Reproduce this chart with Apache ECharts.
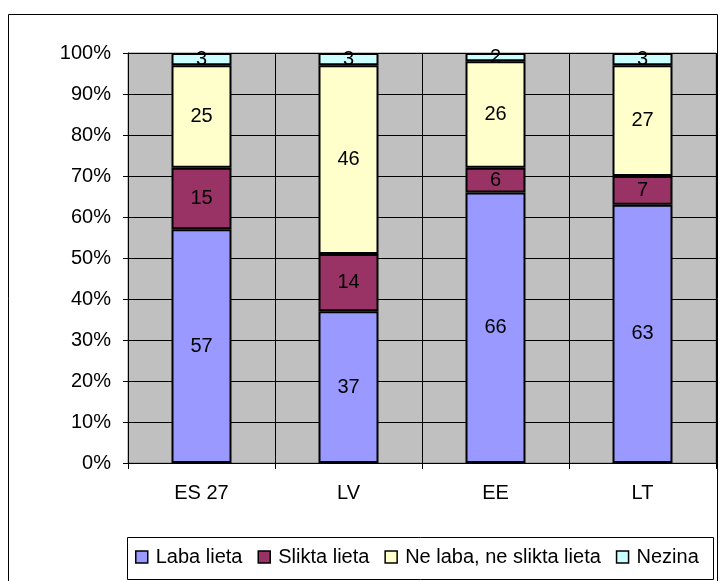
<!DOCTYPE html>
<html>
<head>
<meta charset="utf-8">
<script src="https://cdn.jsdelivr.net/npm/echarts@6/dist/echarts.min.js"></script>
<style>
html, body { margin: 0; padding: 0; background: #fff; }
#main { width: 725px; height: 581px; }
</style>
</head>
<body>
<div id="main"></div>
<script>
var countries = ['ES 27', 'LV', 'EE', 'LT'];
var names = ['Laba lieta', 'Slikta lieta', 'Ne laba, ne slikta lieta', 'Nezina'];
var laba = [57, 37, 66, 63];
var slikta = [15, 14, 6, 7];
var nelaba = [25, 46, 26, 27];
var nezina = [3, 3, 2, 3];
var colors = ['#9999FF', '#993366', '#FFFFCC', '#CCFFFF'];

var myChart = echarts.init(document.getElementById('main'));

var makeSeries = function(name, data, color){
	return {
		name: name,
		type: 'bar',
		stack: 'all',
		data: data,
		barWidth: 60,
		itemStyle: {color: color, borderColor: '#000', borderWidth: 2},
		label: {
			show: true,
			position: 'inside',
			color: '#000',
			fontSize: 20,
			fontFamily: 'Liberation Sans, Arial'
		}
	};
}

var option = {
	animation: false,
	textStyle: {fontFamily: 'Liberation Sans, Arial'},
	graphic: [
		{type: 'rect', shape: {x: 8.5, y: 14.5, width: 709, height: 580}, style: {fill: 'none', stroke: '#000', lineWidth: 1}},
		{type: 'rect', shape: {x: 127.5, y: 537.5, width: 586, height: 42}, style: {fill: '#fff', stroke: '#000', lineWidth: 1}}
	],
	grid: {
		left: 128, right: 9, top: 53, bottom: 118,
		show: true,
		backgroundColor: '#C0C0C0',
		borderColor: '#808080',
		borderWidth: 1
	},
	legend: {
		data: names,
		left: 135,
		top: 547,
		itemWidth: 12,
		itemHeight: 12,
		itemGap: 15,
		padding: 0,
		icon: 'rect',
		itemStyle: {borderColor: '#000', borderWidth: 1.5},
		textStyle: {fontSize: 20, color: '#000', padding: [0, 0, 0, 3]}
	},
	xAxis: {
		type: 'category',
		data: countries,
		axisLine: {lineStyle: {color: '#000'}},
		axisTick: {show: true, length: 6, lineStyle: {color: '#000'}},
		axisLabel: {color: '#000', fontSize: 20, margin: 20},
		splitLine: {show: true, lineStyle: {color: '#000'}}
	},
	yAxis: {
		type: 'value',
		min: 0,
		max: 100,
		interval: 10,
		axisLine: {show: true, lineStyle: {color: '#000'}},
		axisTick: {show: true, length: 5, lineStyle: {color: '#000'}},
		axisLabel: {color: '#000', fontSize: 20, margin: 17, formatter: '{value}%'},
		splitLine: {show: true, lineStyle: {color: '#000'}}
	},
	series: [
		makeSeries(names[0], laba, colors[0]),
		makeSeries(names[1], slikta, colors[1]),
		makeSeries(names[2], nelaba, colors[2]),
		makeSeries(names[3], nezina, colors[3])
	]
};
myChart.setOption(option);
</script>
</body>
</html>
